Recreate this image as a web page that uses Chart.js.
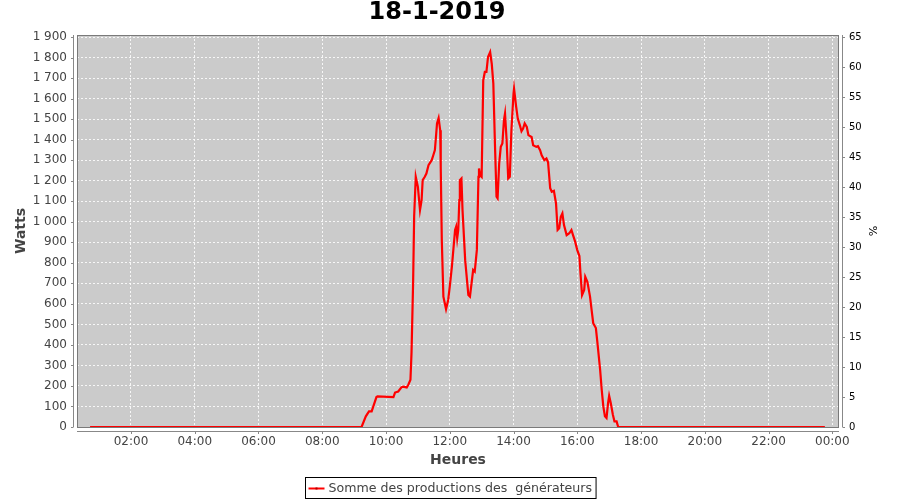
<!DOCTYPE html>
<html>
<head>
<meta charset="utf-8">
<script src="https://cdn.jsdelivr.net/npm/chart.js@4"></script>
<style>
  body { margin: 0; background: #ffffff; }
</style>
</head>
<body>
<canvas id="graphique" width="900" height="500"></canvas>
<script>
const heures = ['00:43','09:14','09:22','09:28','09:33','09:42','09:44','10:14','10:17','10:23','10:29','10:32','10:39','10:42','10:46','10:48','10:51','10:53','10:56','11:00','11:04','11:07','11:09','11:13','11:16','11:20','11:26','11:29','11:32','11:34','11:36','11:39','11:42','11:43','11:45','11:48','11:53','11:57','12:00','12:04','12:10','12:12','12:14','12:16','12:18','12:19','12:22','12:24','12:29','12:35','12:38','12:44','12:47','12:51','12:54','12:55','12:57','13:00','13:03','13:06','13:09','13:12','13:16','13:19','13:22','13:25','13:28','13:30','13:33','13:36','13:39','13:42','13:44','13:47','13:50','13:53','13:56','14:00','14:01','14:05','14:08','14:12','14:15','14:18','14:21','14:25','14:28','14:34','14:37','14:43','14:46','14:50','14:53','14:58','15:02','15:05','15:09','15:12','15:16','15:20','15:23','15:26','15:29','15:32','15:35','15:40','15:45','15:49','15:52','15:56','16:00','16:04','16:06','16:09','16:13','16:15','16:19','16:24','16:27','16:30','16:35','16:38','16:43','16:46','16:49','16:52','16:55','16:58','17:00','17:03','17:07','17:10','17:14','17:17','23:46'];
const watts = [0,0,52,76,76,146,149,146,168,173,193,197,193,206,230,361,702,1029,1219,1170,1057,1105,1203,1219,1235,1276,1300,1324,1349,1413,1479,1505,1446,1268,911,635,574,619,684,781,960,976,919,960,1105,1203,1211,1057,813,643,635,765,757,863,1219,1260,1227,1219,1689,1730,1730,1803,1827,1770,1673,1381,1122,1114,1284,1365,1381,1495,1527,1397,1211,1219,1446,1625,1649,1560,1503,1470,1441,1454,1479,1462,1422,1413,1373,1365,1368,1349,1324,1300,1308,1290,1164,1146,1151,1089,960,968,1024,1041,984,935,944,960,935,903,862,833,749,643,668,732,707,635,570,506,482,409,279,181,100,52,44,117,152,117,60,27,27,0,0];

// Graduations
const minutesTicks = [120,240,360,480,600,720,840,960,1080,1200,1320,1440];
const heuresLabels = ['02:00','04:00','06:00','08:00','10:00','12:00','14:00','16:00','18:00','20:00','22:00','00:00'];
const wattsTicks = [0,100,200,300,400,500,600,700,800,900,1000,1100,1200,1300,1400,1500,1600,1700,1800,1900];
const pourcentTicks = [0,5,10,15,20,25,30,35,40,45,50,55,60,65];

const titre = '18-1-2019';
const nomSerie = 'Somme des productions des  générateurs';

const police = 'DejaVu Sans';
const WATTS_MAX = 1910;

function enMinutes(h) {
    const [hh, mm] = h.split(':').map(Number);
    return hh * 60 + mm;
}
const points = heures.map((h, i) => ({ x: enMinutes(h), y: watts[i] }));

function formatWatts(v) {
    return String(v).replace(/\B(?=(\d{3})+(?!\d))/g, '\u00a0');
}

// fond gris, cadre, axes décalés, titre et légende encadrée
const decor = {
    id: 'decor',
    beforeDraw(chart) {
        const { ctx, chartArea: a } = chart;
        ctx.save();
        ctx.fillStyle = '#cbcbcb';
        ctx.fillRect(a.left, a.top, a.right - a.left, a.bottom - a.top);
        ctx.restore();
    },
    afterDraw(chart) {
        const { ctx, chartArea: a, scales } = chart;
        ctx.save();
        ctx.strokeStyle = '#7a7a7a';
        ctx.lineWidth = 1;
        ctx.strokeRect(a.left + 0.5, a.top + 0.5, a.right - a.left - 1, a.bottom - a.top);

        ctx.strokeStyle = '#888888';
        ctx.beginPath();
        // axe gauche
        ctx.moveTo(a.left - 3.5, a.top);
        ctx.lineTo(a.left - 3.5, a.bottom);
        scales.y.ticks.forEach(t => {
            const py = Math.round(scales.y.getPixelForValue(t.value)) + 0.5;
            ctx.moveTo(a.left - 6, py);
            ctx.lineTo(a.left - 3.5, py);
        });
        // axe droit
        ctx.moveTo(a.right + 3.5, a.top);
        ctx.lineTo(a.right + 3.5, a.bottom);
        scales.y2.ticks.forEach(t => {
            const py = Math.round(scales.y2.getPixelForValue(t.value)) + 0.5;
            ctx.moveTo(a.right + 3.5, py);
            ctx.lineTo(a.right + 6, py);
        });
        // axe du bas
        ctx.moveTo(a.left, a.bottom + 4.5);
        ctx.lineTo(a.right, a.bottom + 4.5);
        scales.x.ticks.forEach(t => {
            const px = Math.round(scales.x.getPixelForValue(t.value)) + 0.5;
            ctx.moveTo(px, a.bottom + 4.5);
            ctx.lineTo(px, a.bottom + 7);
        });
        ctx.stroke();

        // titre
        ctx.fillStyle = '#000000';
        ctx.font = 'bold 24px "' + police + '"';
        ctx.textAlign = 'center';
        ctx.textBaseline = 'middle';
        ctx.fillText(titre, 437, 13);

        // légende
        ctx.font = '12.6px "' + police + '"';
        const texte = chart.data.datasets[0].label;
        const largeur = 3 + 16 + 4 + ctx.measureText(texte).width + 4;
        const gauche = Math.round(450 - largeur / 2) + 0.5;
        const haut = 477.5;
        ctx.strokeStyle = '#000000';
        ctx.strokeRect(gauche, haut, largeur, 21);
        ctx.strokeStyle = '#ff0000';
        ctx.lineWidth = 2;
        ctx.beginPath();
        ctx.moveTo(gauche + 3, haut + 11);
        ctx.lineTo(gauche + 19, haut + 11);
        ctx.stroke();
        ctx.fillStyle = '#b00000';
        ctx.fillRect(gauche + 10, haut + 10, 2, 2);
        ctx.fillStyle = '#444444';
        ctx.textAlign = 'left';
        ctx.fillText(texte, gauche + 23, haut + 11);
        ctx.restore();
    }
};

const ctx = document.getElementById('graphique').getContext('2d');
const graphique = new Chart(ctx, {
    type: 'line',
    data: {
        datasets: [{
            label: nomSerie,
            data: points,
            borderColor: '#ff0000',
            borderWidth: 2.2,
            pointRadius: 0,
            tension: 0,
            yAxisID: 'y'
        }]
    },
    options: {
        responsive: false,
        animation: false,
        devicePixelRatio: 1,
        layout: { padding: { top: 35, bottom: 27, left: 0, right: 0 } },
        plugins: {
            legend: { display: false },
            tooltip: { enabled: false },
            title: { display: false }
        },
        scales: {
            x: {
                type: 'linear',
                min: 18.4,
                max: 1452.6,
                afterBuildTicks: s => { s.ticks = minutesTicks.map(v => ({ value: v })); },
                afterFit: s => { s.height = 46; },
                ticks: {
                    autoSkip: false,
                    maxRotation: 0,
                    padding: 8,
                    color: '#444444',
                    font: { family: police, size: 12 },
                    callback: (v, i) => heuresLabels[i]
                },
                grid: { color: 'rgba(255,255,255,0.85)', drawTicks: false },
                border: { display: false, dash: [2, 2] },
                title: {
                    display: true,
                    text: 'Heures',
                    color: '#444444',
                    font: { family: police, size: 14, weight: 'bold' },
                    padding: { top: 0, bottom: 4.6 }
                }
            },
            y: {
                position: 'left',
                min: 0,
                max: WATTS_MAX,
                afterBuildTicks: s => { s.ticks = wattsTicks.map(v => ({ value: v })); },
                afterFit: s => { s.width = 77; },
                ticks: {
                    padding: 10,
                    color: '#444444',
                    font: { family: police, size: 12 },
                    callback: v => formatWatts(v)
                },
                grid: { color: 'rgba(255,255,255,0.85)', drawTicks: false },
                border: { display: false, dash: [2, 2] },
                title: {
                    display: true,
                    text: 'Watts',
                    color: '#444444',
                    font: { family: police, size: 14, weight: 'bold' },
                    padding: { top: 12.6, bottom: 0 }
                }
            },
            y2: {
                position: 'right',
                min: 0,
                max: WATTS_MAX * 65 / 1900,
                afterBuildTicks: s => { s.ticks = pourcentTicks.map(v => ({ value: v })); },
                afterFit: s => { s.width = 61; },
                ticks: {
                    padding: 10,
                    color: '#000000',
                    font: { family: police, size: 10 }
                },
                grid: { display: false, drawTicks: false },
                border: { display: false },
                title: {
                    display: true,
                    text: '%',
                    color: '#000000',
                    font: { family: police, size: 11 },
                    padding: { top: 21.9, bottom: 0 }
                }
            }
        }
    },
    plugins: [decor]
});
</script>
</body>
</html>
